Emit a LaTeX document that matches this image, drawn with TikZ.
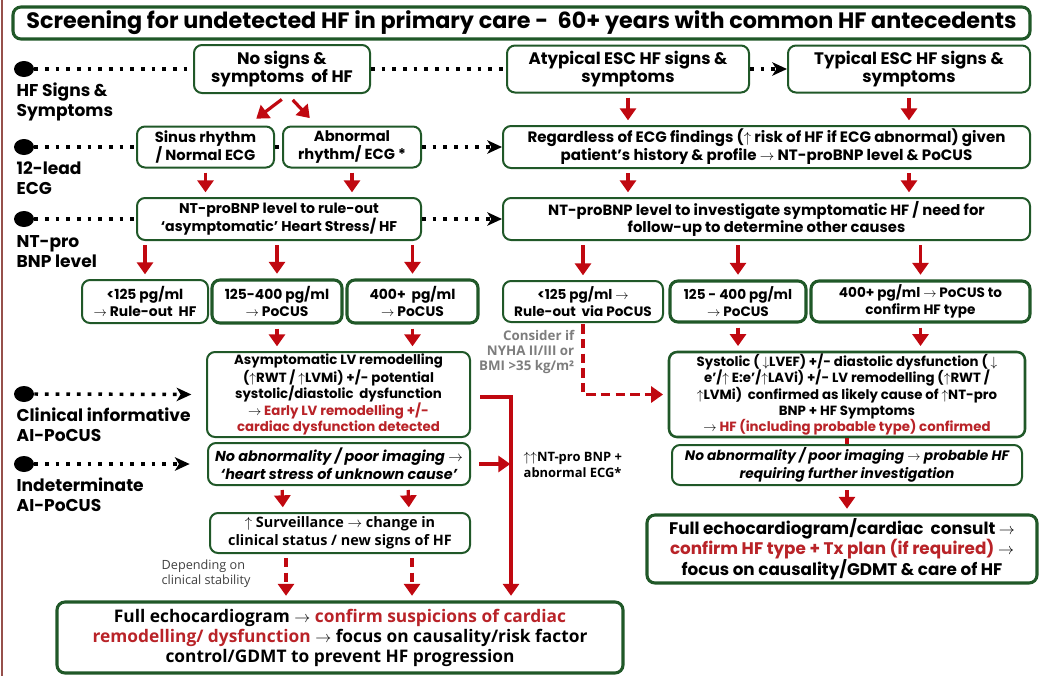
\documentclass[tikz,border=0pt]{standalone}
\usepackage{fontspec}
\setmainfont{Poppins}
\newfontfamily\opensans{Open Sans}
\usetikzlibrary{arrows.meta, shapes.geometric, calc}

\definecolor{hfgreen}{RGB}{32,88,40}
\definecolor{arrred}{RGB}{192,8,16}
\definecolor{txtred}{RGB}{185,35,40}
\definecolor{notegray}{RGB}{125,125,125}
\definecolor{edgebrown}{RGB}{150,80,75}

\tikzset{
  wh/.style 2 args={minimum width=#1*0.75pt, minimum height=#2*0.75pt},
  hfbox/.style={draw=hfgreen, line width=1.5pt, rounded corners=6pt, fill=white, align=center, inner sep=0pt, font=\bfseries\fontsize{9.5}{13.5}\selectfont},
  boldbox/.style={hfbox, line width=2.3pt},
  hfdot/.style={ellipse, fill=black, inner sep=0pt, minimum width=15pt, minimum height=12pt},
  sidelabel/.style={anchor=west, align=left, font=\bfseries\fontsize{12.8}{15}\selectfont},
  dotlink/.style={line width=2.6pt, dash pattern=on 2.8pt off 5.2pt},
  dotarrow/.style={dotlink, -{Stealth[length=11pt, width=10pt, inset=3pt]}},
  redarrow/.style={draw=arrred, line width=2.4pt, shorten <=3pt, shorten >=3.5pt, -{Triangle[length=9pt, width=12pt]}},
  reddash/.style={redarrow, dash pattern=on 7pt off 4pt},
  redline/.style={draw=arrred, line width=2.4pt}
}

\begin{document}
\begin{tikzpicture}[x=0.75pt, y=-0.75pt]
\useasboundingbox (0,0) rectangle (1039,676);

%Frame edge
\draw[edgebrown, line width=2pt] (2,0) -- (2,676);

%Title
\node[boldbox, wh={1017}{32}, font=\bfseries\fontsize{16.7}{18}\selectfont] (title) at (521.5,23) {Screening for undetected HF in primary care -\ \ 60+ years with common HF antecedents};

%Row markers
\node[hfdot] (d1) at (24,69) {};
\node[hfdot] (d2) at (24,147) {};
\node[hfdot] (d3) at (24,219) {};
\node[hfdot] (d4) at (24,394) {};
\node[hfdot] (d5) at (24,464) {};
\node[sidelabel] (l1) at (12,102) {HF Signs \&\\Symptoms};
\node[sidelabel] (l2) at (12,178) {12-lead\\ECG};
\node[sidelabel] (l3) at (12,252) {NT-pro\\BNP level};
\node[sidelabel] (l4) at (12,425) {Clinical informative\\AI-PoCUS};
\node[sidelabel] (l5) at (12,495) {Indeterminate\\AI-PoCUS};

%Signs & symptoms
\node[hfbox, wh={176}{48}, font=\bfseries\fontsize{12.5}{13.5}\selectfont] (nosigns) at (282,69) {No signs \&\\symptoms\ \ of HF};
\node[hfbox, wh={242}{47}, font=\bfseries\fontsize{12.5}{13.5}\selectfont] (atyp) at (628,69) {Atypical ESC HF signs \&\\symptoms};
\node[hfbox, wh={242}{47}, font=\bfseries\fontsize{12.5}{13.5}\selectfont] (typ) at (909,69) {Typical ESC HF signs \&\\symptoms};

%ECG
\node[hfbox, wh={137}{41}, font=\bfseries\fontsize{11}{13.5}\selectfont] (sinus) at (205.5,147) {Sinus rhythm\\/ Normal ECG};
\node[hfbox, wh={138}{41}, font=\bfseries\fontsize{11}{13.5}\selectfont] (abnormal) at (352,147) {Abnormal\\rhythm/ ECG *};
\node[hfbox, wh={527}{42}, font=\bfseries\fontsize{11.3}{13.5}\selectfont] (regard) at (766.5,147) {Regardless of ECG findings ($\uparrow$ risk of HF if ECG abnormal) given\\patient’s history \& profile $\rightarrow$ NT-proBNP level \& PoCUS};

%NT-proBNP
\node[hfbox, wh={284}{42}, font=\bfseries\fontsize{10.6}{13}\selectfont] (ntleft) at (279,219) {NT-proBNP level to rule-out\\‘asymptomatic’ Heart Stress/ HF};
\node[hfbox, wh={527}{42}, font=\bfseries\fontsize{11.1}{13}\selectfont] (ntright) at (766.5,219) {NT-proBNP level to investigate symptomatic HF / need for\\follow-up to determine other causes};

%Cut-offs
\node[hfbox, wh={126}{43}, font=\bfseries\fontsize{10.4}{13}\selectfont] (lowa) at (145,301.5) {<125 pg/ml\\$\rightarrow$ Rule-out\ \ HF};
\node[boldbox, wh={130}{43}, font=\bfseries\fontsize{10.4}{13}\selectfont] (lowb) at (277,301.5) {125-400 pg/ml\\$\rightarrow$ PoCUS};
\node[boldbox, wh={131}{43}, font=\bfseries\fontsize{10.4}{13}\selectfont] (lowc) at (412.5,301.5) {400+\ \ pg/ml\\$\rightarrow$ PoCUS};
\node[hfbox, wh={160}{41}, font=\bfseries\fontsize{10.2}{13}\selectfont] (ra) at (583,301.5) {<125 pg/ml $\rightarrow$\\Rule-out\ \ via PoCUS};
\node[boldbox, wh={136}{41}, font=\bfseries\fontsize{10.2}{13}\selectfont] (rb) at (738,301.5) {125 - 400 pg/ml\\$\rightarrow$ PoCUS};
\node[boldbox, wh={219}{41}, font=\bfseries\fontsize{10.2}{13}\selectfont] (rc) at (920.5,301.5) {400+ pg/ml $\rightarrow$ PoCUS to\\confirm HF type};
\node[anchor=east, align=right, text=notegray, font=\opensans\bfseries\fontsize{10}{11}\selectfont] (consider) at (579,352) {Consider if\\NYHA II/III or\\BMI >35 kg/m²};

%PoCUS findings
\node[hfbox, wh={263}{85}, font=\bfseries\fontsize{10}{12.2}\selectfont] (asym) at (338.5,394.5) {Asymptomatic LV remodelling\\($\uparrow$RWT / $\uparrow$LVMi) +/- potential\\systolic/diastolic\ \ dysfunction\\$\rightarrow$ \textcolor{txtred}{Early LV remodelling +/-}\\\textcolor{txtred}{cardiac dysfunction detected}};
\node[hfbox, wh={262}{42}, font=\bfseries\itshape\fontsize{10.8}{13.5}\selectfont] (noabnl) at (339,464) {No abnormality / poor imaging $\rightarrow$\\‘heart stress of unknown cause’};
\node[hfbox, wh={356}{85}, line width=1.9pt, font=\bfseries\fontsize{10}{12.2}\selectfont] (syst) at (847,394.5) {Systolic ( $\downarrow$LVEF) +/- diastolic dysfunction ( $\downarrow$\\e’/$\uparrow$ E:e’/$\uparrow$LAVi) +/- LV remodelling ($\uparrow$RWT /\\$\uparrow$LVMi)\ \ confirmed as likely cause of $\uparrow$NT-pro\\BNP + HF Symptoms\\$\rightarrow$ \textcolor{txtred}{HF (including probable type) confirmed}};
\node[hfbox, wh={350}{40}, font=\bfseries\itshape\fontsize{10.3}{13}\selectfont] (noabnr) at (847,465) {No abnormality / poor imaging $\rightarrow$ probable HF\\requiring further investigation};
\node[anchor=west, align=left, font=\opensans\bfseries\fontsize{9.7}{12}\selectfont] (ntnote) at (519,465) {$\uparrow\uparrow$NT-pro BNP +\\abnormal ECG*};

%Follow-up
\node[hfbox, wh={260}{40}, font=\opensans\bfseries\fontsize{10.8}{13.5}\selectfont] (surv) at (340,533) {$\uparrow$ Surveillance $\rightarrow$ change in\\clinical status / new signs of HF};
\node[anchor=west, align=left, text=black!75, font=\opensans\fontsize{9.5}{11.3}\selectfont] (depend) at (157,574) {Depending on\\clinical stability};
\node[boldbox, wh={566}{71}, font=\opensans\bfseries\fontsize{13}{15}\selectfont] (fulll) at (340,637.5) {Full echocardiogram $\rightarrow$ \textcolor{txtred}{confirm suspicions of cardiac}\\\textcolor{txtred}{remodelling/ dysfunction} $\rightarrow$ focus on causality/risk factor\\control/GDMT to prevent HF progression};
\node[boldbox, wh={390}{68}, font=\bfseries\fontsize{12.6}{15.4}\selectfont] (fullr) at (842,549) {Full echocardiogram/cardiac\ \ consult $\rightarrow$\\\textcolor{txtred}{confirm HF type + Tx plan (if required)} $\rightarrow$\\focus on causality/GDMT \& care of HF};

%Dotted links
\draw[dotlink] (d1.east) -- (nosigns.west);
\draw[dotlink] (nosigns.east) -- (atyp.west);
\draw[dotarrow] (atyp.east) -- (typ.west);
\draw[dotlink] (d2.east) -- (sinus.west);
\draw[dotlink] (sinus.east) -- (abnormal.west);
\draw[dotarrow] (abnormal.east) -- (regard.west);
\draw[dotlink] (d3.east) -- (ntleft.west);
\draw[dotarrow] (ntleft.east) -- (ntright.west);
\draw[dotarrow, shorten >=11pt] (d4.east) -- (asym.west);
\draw[dotarrow, shorten >=13pt] (d5.east) -- (noabnl.west);

%Red arrows
\draw[redarrow] ($(nosigns.south)+(3,3)$) -- ($(sinus.north)+(47,-4)$);
\draw[redarrow] ($(nosigns.south)+(8,3)$) -- ($(abnormal.north)+(-39,-4)$);
\draw[redarrow] (atyp.south) -- (atyp.south |- regard.north);
\draw[redarrow] (typ.south) -- (typ.south |- regard.north);
\draw[redarrow] (sinus.south) -- (sinus.south |- ntleft.north);
\draw[redarrow] (abnormal.south) -- (abnormal.south |- ntleft.north);
\draw[redarrow] (regard.south -| atyp.south) -- (ntright.north -| atyp.south);
\draw[redarrow] (regard.south -| typ.south) -- (ntright.north -| typ.south);
\draw[redarrow] (ntleft.south -| lowa.north) -- (lowa.north);
\draw[redarrow] (ntleft.south -| lowb.north) -- (lowb.north);
\draw[redarrow] (ntleft.south -| lowc.north) -- (lowc.north);
\draw[redarrow] (ntright.south -| ra.north) -- (ra.north);
\draw[redarrow] (ntright.south -| rb.north) -- (rb.north);
\draw[redarrow] (ntright.south -| rc.north) -- (rc.north);
\draw[redarrow] (lowb.south) -- (lowb.south |- asym.north);
\draw[redarrow] (lowc.south) -- (lowc.south |- asym.north);
\draw[redarrow] (rb.south) -- (rb.south |- syst.north);
\draw[redarrow] (rc.south) -- (rc.south |- syst.north);
\draw[reddash, shorten <=1pt] (ra.south) |- (syst.west);

%Left column
\coordinate (bus) at (511,397);
\draw[redarrow, shorten <=7pt] (asym.east |- bus) -- (bus) -- (bus |- fulll.north);
\draw[redarrow, shorten <=6pt, shorten >=0.5pt] (noabnl.east) -- (noabnl.east -| bus);
\draw[redarrow] ($(noabnl.south)+(-57,0)$) -- ($(surv.north)+(-57,0)$);
\draw[redarrow] ($(noabnl.south)+(69,0)$) -- ($(surv.north)+(69,0)$);
\draw[reddash] ($(surv.south)+(-54,0)$) -- ($(fulll.north)+(-54,0)$);
\draw[reddash] ($(surv.south)+(72,0)$) -- ($(fulll.north)+(72,0)$);

%Right column
\draw[redline] (syst.south) -- (noabnr.north);
\draw[redarrow] (noabnr.south) -- (noabnr.south |- fullr.north);

\end{tikzpicture}
\end{document}
